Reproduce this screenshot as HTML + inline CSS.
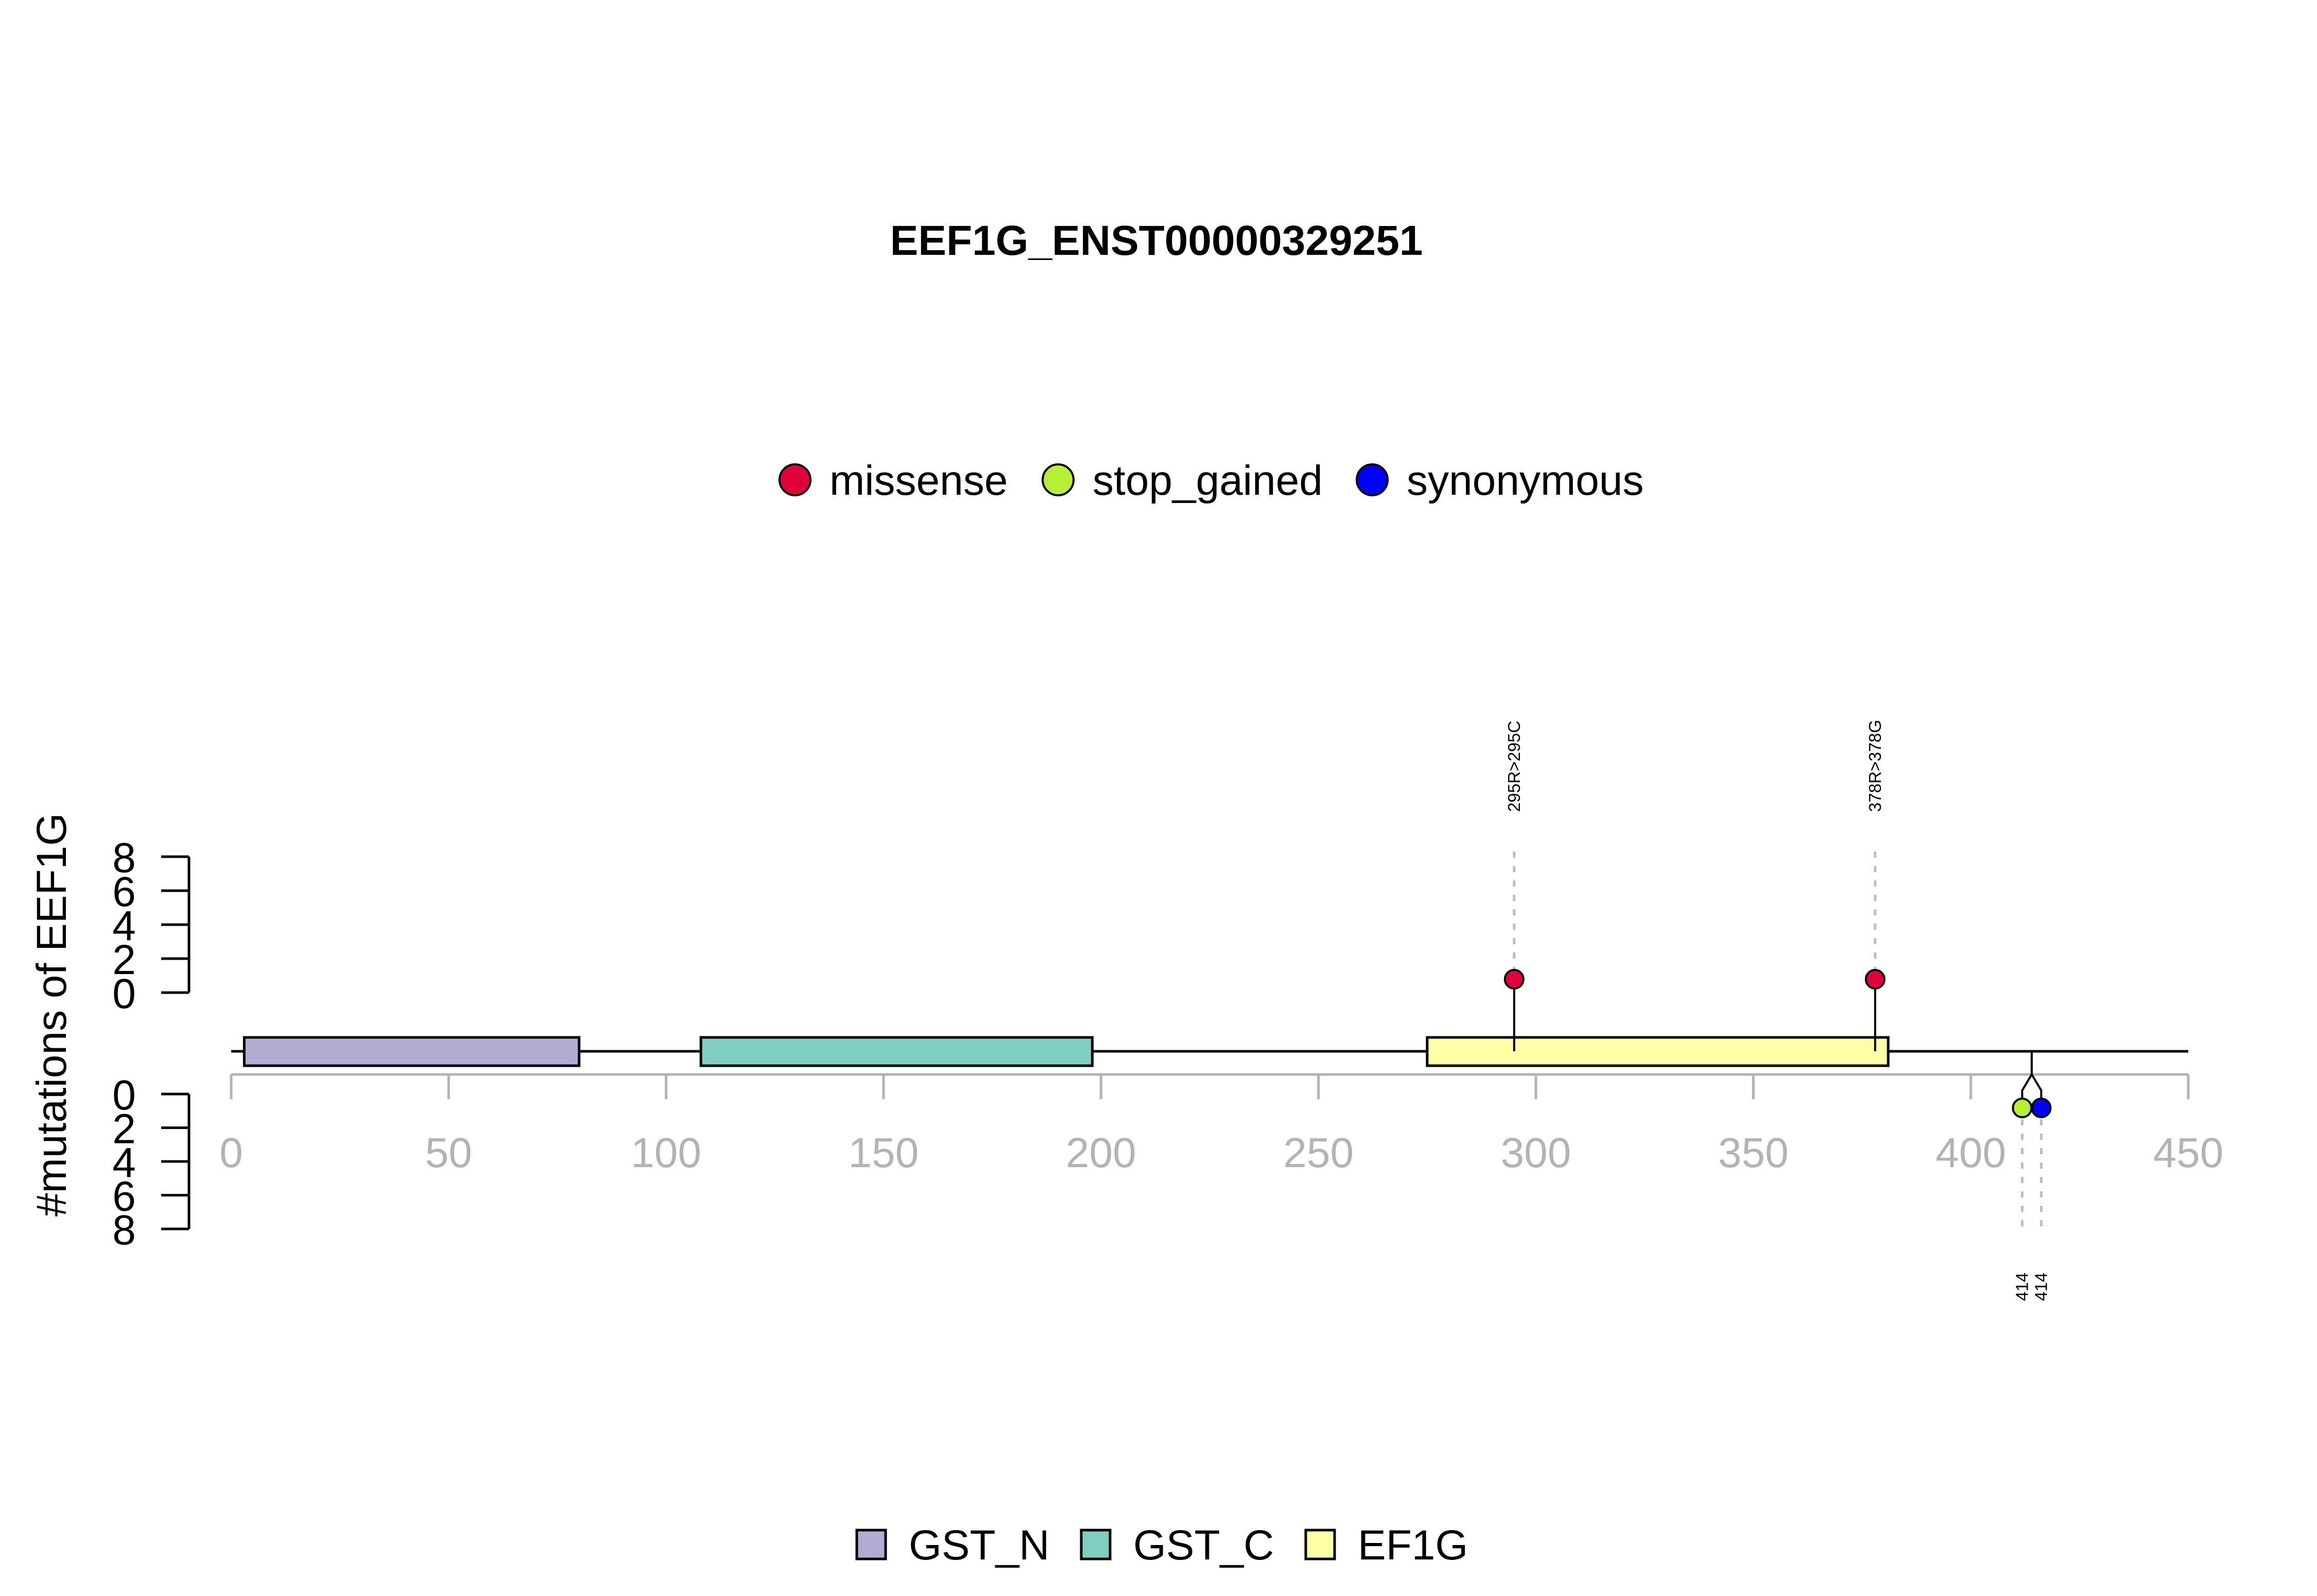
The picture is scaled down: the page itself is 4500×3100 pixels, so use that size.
<!DOCTYPE html>
<html><head><meta charset="utf-8">
<style>
html,body{margin:0;padding:0;background:#fff;}
svg{display:block;font-family:"Liberation Sans",Arial,sans-serif;}
</style></head>
<body>
<svg id="chart" xmlns="http://www.w3.org/2000/svg" width="4500" height="3100" viewBox="0 0 4500 3100">
<rect width="4500" height="3100" fill="#fff"/>
<text x="2246" y="495" font-size="82" font-weight="bold" text-anchor="middle">EEF1G_ENST00000329251</text>
<text transform="translate(128,1971) rotate(-90)" font-size="82" text-anchor="middle">#mutations of EEF1G</text>
<g id="g-legend-top"></g>
<g id="g-axes"></g>
<g id="g-domains"></g>
<g id="g-muts"></g>
<g id="g-legend-bottom"></g>
</svg>
<script>
// ---- data ----
const xTicks = [0, 50, 100, 150, 200, 250, 300, 350, 400, 450];
const yTicks = [0, 2, 4, 6, 8];
const domainNames = ["GST_N", "GST_C", "EF1G"];
const domainStart = [3, 108, 275];
const domainEnd = [80, 198, 381];
const domainColors = ["#b2abd2", "#80cdc1", "#ffffa5"];
const mutTypes = ["missense", "stop_gained", "synonymous"];
const mutTypeColors = ["#e0003a", "#b6ef36", "#0000ff"];
const upPos = [295, 378];
const upLabels = ["295R>295C", "378R>378G"];
const upType = [0, 0];
const downPos = [414, 414];
const downLabels = ["414", "414"];
const downType = [1, 2];

// ---- scales ----
const X0 = 449, XK = (4250 - 449) / 450;
const xs = v => X0 + v * XK;
const yUp = v => 1928 - v * (1928 - 1664) / 8;
const yDn = v => 2125 + v * (2387 - 2125) / 8;
const NS = "http://www.w3.org/2000/svg";
function mk(tag, attrs, parent) {
  const e = document.createElementNS(NS, tag);
  for (const k in attrs) e.setAttribute(k, attrs[k]);
  parent.appendChild(e);
  return e;
}
const gA = document.getElementById('g-axes');
const gD = document.getElementById('g-domains');
const gM = document.getElementById('g-muts');
const gLT = document.getElementById('g-legend-top');
const gLB = document.getElementById('g-legend-bottom');
const BACK = 2042, AXY = 2087;

// x axis
let ax = mk('line', {x1: xs(0), x2: xs(450), y1: AXY, y2: AXY, stroke: '#b3b3b3', 'stroke-width': 5}, gA);


xTicks.forEach(t => {
  const l = mk('line', {x1: xs(t), x2: xs(t), y1: AXY, y2: 2135, stroke: '#b3b3b3', 'stroke-width': 5}, gA);
  
  
  const tx = mk('text', {x: xs(t), y: 2267, 'font-size': 82, fill: '#b3b3b3', 'text-anchor': 'middle'}, gA);
  tx.textContent = t;
  
  
});
// y axes (upper & lower)
[[yUp, 'upper'], [yDn, 'lower']].forEach(([f, nm]) => {
  const l = mk('line', {x1: 367, x2: 367, y1: f(0), y2: f(8), stroke: '#000', 'stroke-width': 5}, gA);
  
  
  yTicks.forEach(t => {
    const tk = mk('line', {x1: 313, x2: 367, y1: f(t), y2: f(t), stroke: '#000', 'stroke-width': 5}, gA);
    
    
    const tx = mk('text', {x: 241, y: f(t) + 30, 'font-size': 82, 'text-anchor': 'middle'}, gA);
    tx.textContent = t;
    
    
  });
});
// backbone
let bb = mk('line', {x1: xs(0), x2: xs(450), y1: BACK, y2: BACK, stroke: '#000', 'stroke-width': 5}, gD);


domainNames.forEach((n, i) => {
  const r = mk('rect', {x: xs(domainStart[i]), y: 2015, width: xs(domainEnd[i]) - xs(domainStart[i]), height: 55, fill: domainColors[i], stroke: '#000', 'stroke-width': 5}, gD);
  
  
});
// upper lollipops
upPos.forEach((p, i) => {
  const x = xs(p), cy = 1902;
  const d = mk('line', {x1: x, x2: x, y1: 1654, y2: cy - 20, stroke: '#bebebe', 'stroke-width': 5, 'stroke-dasharray': '12 16'}, gM);
  
  
  const s = mk('line', {x1: x, x2: x, y1: BACK, y2: cy, stroke: '#000', 'stroke-width': 4}, gM);
  
  
  const c = mk('circle', {cx: x, cy: cy, r: 18, fill: mutTypeColors[upType[i]], stroke: '#000', 'stroke-width': 4}, gM);
  
  
  const t = mk('text', {transform: `translate(${x + 11},1577) rotate(-90)`, 'font-size': 33}, gM);
  t.textContent = upLabels[i];
  
  
});
// lower lollipops (clustered)
const n = downPos.length;
downPos.forEach((p, i) => {
  const xc = xs(p), off = (i - (n - 1) / 2) * 37, x = xc + off, cy = 2152;
  const s = mk('polyline', {points: `${xc},${BACK} ${xc},${AXY} ${x},2118 ${x},${cy}`, fill: 'none', stroke: '#000', 'stroke-width': 4}, gM);
  
  
  const d = mk('line', {x1: x, x2: x, y1: cy + 22, y2: 2393, stroke: '#bebebe', 'stroke-width': 5, 'stroke-dasharray': '12 16'}, gM);
  
  
});
downPos.forEach((p, i) => {
  const xc = xs(p), off = (i - (n - 1) / 2) * 37, x = xc + off, cy = 2152;
  const c = mk('circle', {cx: x, cy: cy, r: 18, fill: mutTypeColors[downType[i]], stroke: '#000', 'stroke-width': 4}, gM);
  
  
  const t = mk('text', {transform: `translate(${x + 11},2527) rotate(-90)`, 'font-size': 33}, gM);
  t.textContent = downLabels[i];
  
  
});
// top legend
const ltCx = [1544, 2055, 2665];
mutTypes.forEach((m, i) => {
  const c = mk('circle', {cx: ltCx[i], cy: 932, r: 30, fill: mutTypeColors[i], stroke: '#000', 'stroke-width': 4}, gLT);
  
  
  const t = mk('text', {x: ltCx[i] + 67, y: 961, 'font-size': 82}, gLT);
  t.textContent = m;
  
  
});
// bottom legend
const lbX = [1664, 2100, 2536];
domainNames.forEach((d, i) => {
  const r = mk('rect', {x: lbX[i], y: 2972, width: 56, height: 56, fill: domainColors[i], stroke: '#000', 'stroke-width': 5}, gLB);
  
  
  const t = mk('text', {x: lbX[i] + 101, y: 3029, 'font-size': 82}, gLB);
  t.textContent = d;
  
  
});
</script>
</body></html>
